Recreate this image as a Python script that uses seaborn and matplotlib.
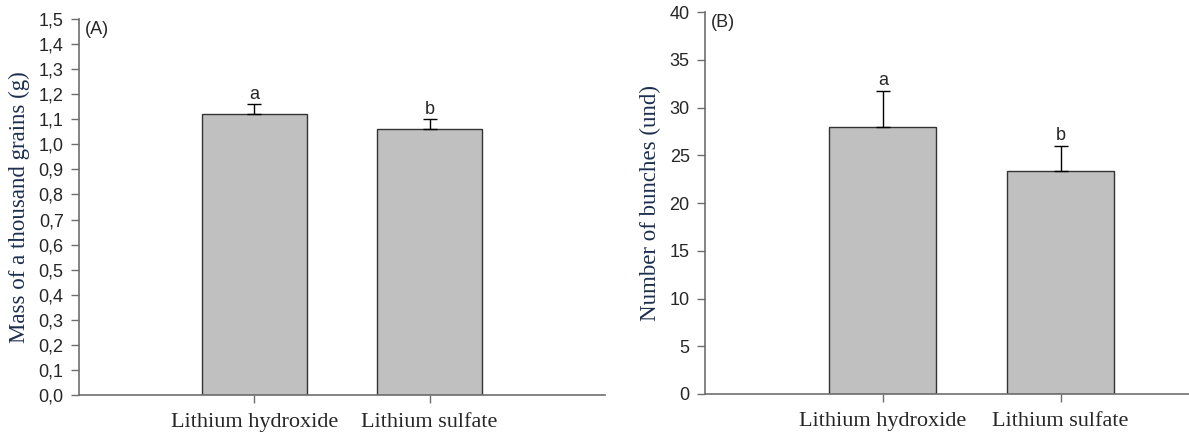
import numpy as np
import pandas as pd
import seaborn as sns
import matplotlib.pyplot as plt
from matplotlib.ticker import FuncFormatter, MultipleLocator

treatments = ["Lithium hydroxide", "Lithium sulfate"]

# (A) mass of a thousand grains
mass_mean = [1.12, 1.06]
mass_err = [0.04, 0.04]
mass_letters = ["a", "b"]

# (B) number of bunches
bunch_mean = [28.0, 23.3]
bunch_err = [3.7, 2.7]
bunch_letters = ["a", "b"]

BAR_COLOR = "#c0c0c0"
EDGE_COLOR = "#333333"
SPINE_COLOR = "#6e6e6e"
LABEL_COLOR = "#1c2f4f"
SANS = ["Liberation Sans", "DejaVu Sans"]
SERIF = ["Liberation Serif", "DejaVu Serif"]

sns.set_style("white")
plt.rcParams["font.family"] = SANS


def draw_panel(ax, means, errs, letters, ylim, step, ylabel, tag, fmt, letter_pad):
    df = pd.DataFrame({"treatment": treatments, "value": means})
    sns.barplot(
        data=df,
        x="treatment",
        y="value",
        color=BAR_COLOR,
        width=0.6,
        errorbar=None,
        edgecolor=EDGE_COLOR,
        linewidth=1.0,
        saturation=1,
        ax=ax,
    )
    xs = np.arange(len(means))
    ax.errorbar(
        xs,
        means,
        yerr=[np.zeros(len(errs)), errs],
        fmt="none",
        ecolor="black",
        elinewidth=1.0,
        capsize=5,
        capthick=1.0,
    )
    for x, m, e, t in zip(xs, means, errs, letters):
        ax.text(x, m + e + letter_pad, t, ha="center", va="bottom", fontsize=13, family=SANS)

    ax.set_xlim(-1, 2)
    ax.set_ylim(*ylim)
    ax.yaxis.set_major_locator(MultipleLocator(step))
    ax.yaxis.set_major_formatter(FuncFormatter(fmt))
    ax.set_xlabel("")
    ax.set_ylabel(ylabel, family=SERIF, fontsize=16.5, color=LABEL_COLOR, labelpad=6)
    for lbl in ax.get_xticklabels():
        lbl.set_family(SERIF)
        lbl.set_fontsize(16)
    for lbl in ax.get_yticklabels():
        lbl.set_fontsize(13)
    ax.tick_params(axis="both", direction="out", length=6, width=1, color=SPINE_COLOR,
                   left=True, bottom=True)
    ax.tick_params(axis="x", pad=7)
    ax.tick_params(axis="y", pad=5)
    sns.despine(ax=ax)
    for s in ["left", "bottom"]:
        ax.spines[s].set_color(SPINE_COLOR)
        ax.spines[s].set_linewidth(1.2)
    ax.text(0.012, 0.995, tag, transform=ax.transAxes, ha="left", va="top", fontsize=13, family=SANS)


fig = plt.figure(figsize=(11.89, 4.37), dpi=100)
ax_a = fig.add_axes([0.0664, 0.0961, 0.4424, 0.8604])
ax_b = fig.add_axes([0.5929, 0.0984, 0.4486, 0.8741])

draw_panel(ax_a, mass_mean, mass_err, mass_letters, (0, 1.5), 0.1,
           "Mass of a thousand grains (g)", "(A)",
           lambda v, p: f"{v:.1f}".replace(".", ","), 0.005)
draw_panel(ax_b, bunch_mean, bunch_err, bunch_letters, (0, 40), 5,
           "Number of bunches (und)", "(B)",
           lambda v, p: f"{v:.0f}", 0.2)

fig.savefig("out.png", dpi=100)
